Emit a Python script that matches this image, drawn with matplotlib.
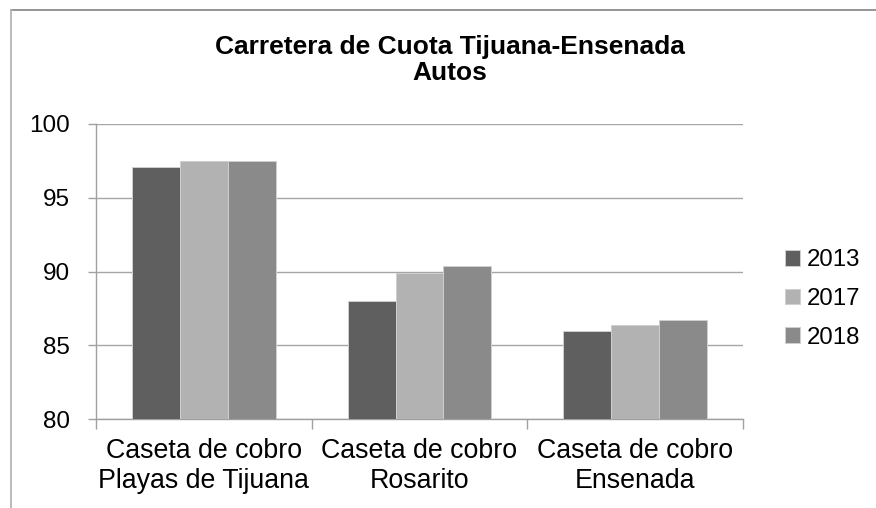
import matplotlib.pyplot as plt
from matplotlib.lines import Line2D
import numpy as np

plt.rcParams['font.family'] = ['Liberation Sans', 'DejaVu Sans']

categories = ['Caseta de cobro\nPlayas de Tijuana', 'Caseta de cobro\nRosarito', 'Caseta de cobro\nEnsenada']
years = ['2013', '2017', '2018']
vals2013 = [97.1, 88.0, 86.0]
vals2017 = [97.5, 89.9, 86.4]
vals2018 = [97.5, 90.4, 86.7]
colors = ['#5f5f5f', '#b2b2b2', '#8a8a8a']

fig = plt.figure(figsize=(8.76, 5.08), dpi=100)
ax = fig.add_axes([96/876, 1-419/508, (743-96)/876, (419-124)/508])

x = np.arange(len(categories))
w = 0.2216
for j, (vals, yr) in enumerate(zip([vals2013, vals2017, vals2018], years)):
    ax.bar(x + (j-1)*w, vals, width=w, color=colors[j], edgecolor='#cfcfcf',
           linewidth=0.7, label=yr, zorder=3)

ax.set_ylim(80, 100)
ax.set_yticks([80, 85, 90, 95, 100])
ax.set_xlim(-0.5, 2.5)
ax.set_xticks([-0.5, 0.5, 1.5, 2.5])
ax.set_xticklabels([])
ax.set_xticks(x, minor=True)
ax.set_xticklabels(categories, minor=True, fontsize=19.3, linespacing=1.18)
ax.tick_params(axis='x', which='minor', length=0, pad=14)
ax.tick_params(axis='x', which='major', length=7, color='#a0a0a0', width=1)
ax.tick_params(axis='y', length=6, color='#a0a0a0', width=1, pad=13, labelsize=17.5)

ax.grid(axis='y', color='#a6a6a6', linewidth=1, zorder=0)
for s in ['top', 'right']:
    ax.spines[s].set_visible(False)
for s in ['left', 'bottom']:
    ax.spines[s].set_color('#a0a0a0')
    ax.spines[s].set_linewidth(1)

fig.text(450/876, 1-60/508, 'Carretera de Cuota Tijuana-Ensenada\nAutos', ha='center',
         va='center', fontsize=19, fontweight='bold', linespacing=1.15)

leg = ax.legend(loc='center left', bbox_to_anchor=(785/876, 1-299/508),
                bbox_transform=fig.transFigure, frameon=False, fontsize=17.3,
                handlelength=0.64, handleheight=0.64, handletextpad=0.25,
                labelspacing=0.7, borderpad=0, borderaxespad=0)

# chart frame
fig.add_artist(Line2D([11/876, 1], [1-9.5/508, 1-9.5/508], color='#8c8c8c', linewidth=1.3))
fig.add_artist(Line2D([11/876, 11/876], [0, 1-9.5/508], color='#b4b4b4', linewidth=1.3))

plt.savefig('out.png', dpi=100)
